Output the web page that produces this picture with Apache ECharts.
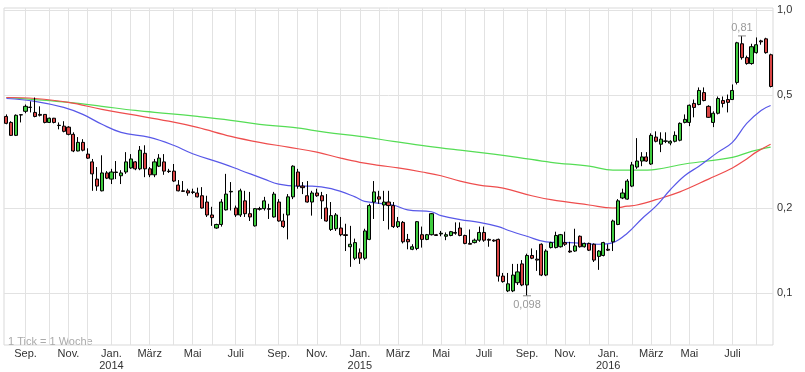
<!DOCTYPE html>
<html><head><meta charset="utf-8">
<script src="https://cdn.jsdelivr.net/npm/echarts@6/dist/echarts.min.js"></script>
<style>html,body{margin:0;padding:0;background:#fff}#c{width:805px;height:372px}</style>
</head><body><div id="c"></div>
<script>
// ---- data ----
const firstWeekEnd = [2013, 7, 4];   // Sunday, end of the first weekly bar
const weekCount = 161;
const monthNames = ['Jan.','Feb.','März','Apr.','Mai','Juni','Juli','Aug.','Sep.','Okt.','Nov.','Dez.'];
const labelMonths = [0, 2, 4, 6, 8, 10];
const yTickValues = [0.1, 0.2, 0.5, 1.0];
const footNote = '1 Tick = 1 Woche';

const opens = [
.421,.401,.361,.426,.439,.453,.435,.428,.428,.401,
.415,.392,.389,.386,.364,.318,.341,.310,.291,.253,
.230,.266,.253,.268,.260,.268,.277,.291,.275,.312,
.275,.262,.281,.291,.270,.270,.241,.230,.230,.228,
.226,.221,.210,.189,.170,.175,.197,.228,.200,.189,
.212,.191,.173,.199,.199,.199,.186,.210,.180,.189,
.219,.268,.239,.221,.210,.226,.221,.200,.168,.169,
.170,.161,.146,.133,.139,.133,.155,.210,.219,.205,
.210,.204,.172,.178,.155,.143,.144,.161,.155,.161,
.161,.162,.159,.160,.164,.170,.160,.150,.151,.154,
.164,.155,.154,.155,.115,.102,.102,.109,.127,.107,
.136,.132,.149,.116,.145,.145,.146,.151,.141,.141,
.159,.146,.150,.149,.135,.136,.143,.152,.175,.217,
.215,.239,.279,.293,.303,.286,.356,.336,.344,.339,
.344,.347,.401,.401,.468,.464,.511,.457,.401,.432,
.479,.483,.483,.555,.760,.679,.647,.707,.778,.791,
.695];
const closes = [
.398,.361,.425,.427,.457,.454,.421,.425,.401,.415,
.401,.391,.373,.364,.318,.341,.320,.300,.264,.239,
.266,.255,.268,.267,.266,.291,.298,.275,.320,.275,
.262,.291,.300,.270,.269,.249,.230,.229,.226,.227,
.219,.200,.189,.185,.175,.210,.224,.229,.189,.230,
.191,.186,.199,.198,.212,.198,.224,.180,.172,.219,
.281,.239,.236,.210,.226,.221,.212,.180,.188,.189,
.161,.160,.149,.151,.133,.166,.204,.228,.215,.210,
.204,.172,.179,.152,.152,.146,.179,.155,.161,.191,
.160,.163,.161,.165,.163,.160,.150,.149,.154,.164,
.154,.154,.153,.115,.110,.108,.116,.119,.107,.136,
.133,.131,.116,.141,.151,.160,.161,.149,.140,.147,
.146,.150,.142,.131,.141,.151,.142,.180,.212,.226,
.249,.284,.293,.303,.293,.361,.344,.350,.345,.344,
.361,.398,.411,.461,.453,.520,.479,.418,.432,.487,
.468,.472,.520,.766,.679,.647,.742,.754,.772,.707,
.537];
const lows = [
.395,.359,.359,.401,.432,.435,.418,.421,.398,.399,
.398,.379,.370,.361,.315,.317,.317,.298,.230,.230,
.229,.253,.243,.253,.243,.264,.275,.272,.272,.257,
.257,.257,.279,.262,.266,.247,.229,.228,.221,.224,
.218,.199,.186,.173,.169,.172,.196,.196,.186,.186,
.186,.180,.172,.196,.196,.183,.185,.179,.170,.155,
.215,.234,.224,.209,.188,.219,.183,.179,.166,.166,
.159,.141,.124,.131,.127,.131,.154,.183,.207,.180,
.168,.170,.170,.150,.143,.142,.142,.145,.154,.160,
.160,.159,.154,.159,.161,.159,.149,.149,.150,.152,
.152,.146,.152,.110,.109,.101,.101,.107,.106,.098,
.132,.120,.115,.115,.144,.144,.145,.147,.139,.140,
.145,.145,.141,.129,.121,.135,.141,.141,.174,.215,
.214,.237,.275,.281,.291,.284,.341,.315,.339,.333,
.341,.344,.398,.389,.418,.461,.476,.416,.386,.428,
.453,.435,.481,.546,.668,.641,.641,.701,.754,.701,
.533];
const highs = [
.428,.405,.428,.428,.464,.476,.491,.457,.428,.417,
.416,.401,.405,.389,.370,.356,.350,.325,.298,.279,
.307,.270,.275,.293,.272,.315,.310,.293,.331,.333,
.279,.298,.310,.310,.275,.286,.251,.249,.234,.234,
.236,.237,.221,.202,.176,.215,.264,.247,.204,.234,
.230,.228,.200,.202,.219,.207,.228,.215,.191,.224,
.283,.275,.247,.249,.230,.234,.228,.224,.210,.192,
.186,.176,.173,.156,.144,.169,.207,.249,.230,.230,
.230,.210,.186,.180,.162,.149,.180,.172,.162,.192,
.162,.166,.164,.166,.178,.178,.161,.168,.156,.172,
.172,.156,.155,.156,.118,.118,.127,.127,.131,.138,
.144,.142,.150,.143,.152,.165,.162,.165,.152,.169,
.160,.151,.151,.150,.142,.152,.149,.182,.215,.234,
.253,.291,.353,.315,.315,.367,.373,.370,.370,.347,
.373,.401,.428,.464,.483,.533,.533,.461,.439,.495,
.495,.503,.546,.772,.810,.690,.760,.800,.785,.798,
.701];

// moving averages: [week index, value]
const maBlue = [[0,.487],[6,.476],[12,.453],[16,.428],[20,.395],[24,.370],[30,.355],[35,.333],[39,.311],[45,.288],[49,.272],[54,.253],[57,.243],[61,.239],[64,.239],[68,.234],[73,.219],[75,.211],[81,.205],[84,.197],[89,.194],[91,.188],[95,.182],[99,.178],[103,.172],[105,.167],[109,.159],[113,.152],[118,.151],[124,.149],[127,.151],[130,.163],[133,.183],[136,.203],[139,.232],[142,.260],[145,.281],[149,.315],[152,.341],[155,.398],[158,.442],[160,.460]];
const maRed = [[0,.491],[6,.487],[13,.472],[20,.446],[26,.428],[34,.405],[40,.385],[47,.358],[53,.341],[59,.328],[65,.315],[70,.300],[74,.290],[78,.283],[82,.277],[87,.268],[91,.260],[95,.249],[99,.241],[104,.235],[110,.221],[114,.214],[122,.205],[127,.200],[130,.203],[132,.205],[136,.214],[141,.228],[147,.253],[152,.277],[155,.298],[157,.315],[160,.336]];
const maGreen = [[0,.491],[6,.483],[13,.472],[20,.457],[27,.442],[34,.431],[40,.421],[47,.408],[53,.395],[60,.385],[67,.370],[74,.358],[81,.344],[88,.331],[95,.320],[102,.310],[107,.302],[114,.290],[122,.281],[127,.272],[132,.272],[136,.274],[142,.286],[152,.302],[156,.317],[160,.328]];

// ---- chart ----
const FONT = "'Liberation Sans Narrow','Arial Narrow','Liberation Sans',sans-serif";
const dates = [];
const t0 = Date.UTC(firstWeekEnd[0], firstWeekEnd[1], firstWeekEnd[2]);
for (let i = 0; i < weekCount; i++) dates.push(new Date(t0 + i * 7 * 864e5));
const categories = dates.map(d => d.toISOString().slice(0, 10));
const isMonthStart = i => i > 0 && dates[i].getUTCMonth() !== dates[i - 1].getUTCMonth();
const fmtNum = v => String(v).replace('.', ',');

const candleData = opens.map((o, i) => [o, closes[i], lows[i], highs[i]]);

const chart = echarts.init(document.getElementById('c'), null, {renderer: 'canvas'});
chart.setOption({
  animation: false,
  textStyle: {fontFamily: FONT},
  grid: {left: 4, top: 8, width: 769, height: 339, show: true, borderColor: '#d9d9d9', borderWidth: 1, backgroundColor: '#fff'},
  xAxis: {
    type: 'category', data: categories, boundaryGap: true,
    axisLine: {show: false}, axisTick: {show: false},
    axisLabel: {
      interval: (i) => isMonthStart(i) && labelMonths.indexOf(dates[i].getUTCMonth()) >= 0,
      formatter: (v, i) => {
        const d = new Date(v + 'T00:00:00Z'); const m = d.getUTCMonth();
        return m === 0 ? monthNames[m] + '\n' + d.getUTCFullYear() : monthNames[m];
      },
      color: '#333', fontSize: 11, fontFamily: FONT, margin: 3, lineHeight: 12
    },
    splitLine: {show: true, interval: (i) => isMonthStart(i), alignWithLabel: true, lineStyle: {color: '#e2e2e2', width: 1}}
  },
  yAxis: {
    type: 'log', logBase: 10, min: 0.0657, max: 1.0163, position: 'right',
    axisLine: {show: false}, axisTick: {show: false}, axisLabel: {show: false}, splitLine: {show: false}
  },
  graphic: [{type: 'text', left: 8, top: 336, silent: true,
    style: {text: footNote, fill: '#aaa', font: "11px " + FONT}}],
  series: [
    {type: 'line', name: 'grid', data: [], silent: true, z: 1,
     markLine: {silent: true, symbol: 'none', z: 1, animation: false,
       lineStyle: {type: 'solid', color: '#e2e2e2', width: 1},
       label: {position: 'end', distance: 4, color: '#333', fontSize: 11, fontFamily: FONT,
               formatter: p => p.value.toFixed(1).replace('.', ',')},
       emphasis: {disabled: true},
       data: yTickValues.map(v => ({yAxis: v}))}},
    {type: 'line', name: 'MA green', data: maGreen, symbol: 'none', smooth: 0.4, z: 2, silent: true,
     lineStyle: {color: '#55dd55', width: 1.2}},
    {type: 'line', name: 'MA red', data: maRed, symbol: 'none', smooth: 0.4, z: 2, silent: true,
     lineStyle: {color: '#ee4d4d', width: 1.2}},
    {type: 'line', name: 'MA blue', data: maBlue, symbol: 'none', smooth: 0.4, z: 2, silent: true,
     lineStyle: {color: '#5858e8', width: 1.2}},
    {type: 'candlestick', name: 'Kurs', data: candleData, z: 3, barWidth: 3.6, silent: true,
     itemStyle: {color: '#3fcc3f', color0: '#d94444', borderColor: '#000', borderColor0: '#000', borderWidth: 1},
     markPoint: {symbol: 'rect', symbolSize: [8, 1], silent: true, animation: false,
       itemStyle: {color: '#888'},
       label: {color: '#999', fontSize: 11, fontFamily: FONT},
       data: [
         {type: 'max', valueDim: 'highest', label: {position: 'top', distance: 2, formatter: p => fmtNum(p.value)}},
         {type: 'min', valueDim: 'lowest', label: {position: 'bottom', distance: 3, formatter: p => fmtNum(p.value)}}
       ]}}
  ]
});
</script>
</body></html>
